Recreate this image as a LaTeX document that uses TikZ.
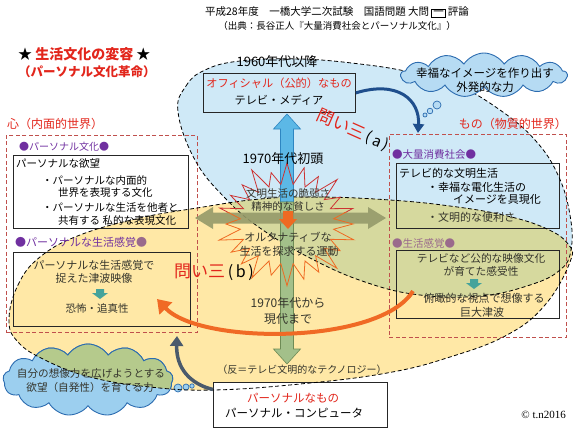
\documentclass[tikz,border=0pt]{standalone}
\usepackage{fontspec}
\setmainfont{Noto Sans CJK JP}
\newfontfamily\seriffont{Liberation Serif}
\usetikzlibrary{shapes.symbols,arrows.meta,positioning}
\setlength\fboxsep{1.2pt}
\setlength\fboxrule{0.6pt}

% colours
\definecolor{skyfill}{HTML}{CFE9F7}
\definecolor{sunfill}{HTML}{FFE8A6}
\definecolor{mixfill}{HTML}{D6D99E}
\definecolor{puffblue}{HTML}{9CCFEF}
\definecolor{pufftop}{HTML}{B6DBF3}
\definecolor{puffline}{HTML}{2C6CB0}
\definecolor{puffmix}{HTML}{B5CA8C}
\definecolor{frame}{HTML}{C0504D}
\definecolor{headred}{HTML}{E2261C}
\definecolor{persviolet}{HTML}{7030A0}
\definecolor{mauve}{HTML}{9A6A8C}
\definecolor{ink}{HTML}{35352C}
\definecolor{upblue}{HTML}{5CB8E6}
\definecolor{upblueline}{HTML}{2E86C1}
\definecolor{downgreen}{HTML}{A3C08A}
\definecolor{downgreenline}{HTML}{6E8B55}
\definecolor{sidearrow}{HTML}{959A6A}
\definecolor{tealarrow}{HTML}{45A39B}
\definecolor{burstred}{HTML}{CC3333}
\definecolor{burstorange}{HTML}{EE6A22}
\definecolor{arcorange}{HTML}{F06A25}
\definecolor{slatearrow}{HTML}{4A5A6C}
\definecolor{navyarrow}{HTML}{1F4E8C}

\tikzset{
  txt/.style={inner sep=0pt, font=\fontsize{#1}{#1}\selectfont},
  txt/.default=10.5,
  redframe/.style={draw=frame, dash pattern=on 4pt off 2.5pt, line width=0.9pt, inner sep=0pt},
  inkbox/.style={draw=black!85, line width=0.8pt, inner sep=0pt},
  ovaledge/.style={draw=black, dash pattern=on 4pt off 2.5pt, line width=0.8pt},
  puff/.style={cloud, cloud puffs=13, cloud puff arc=115, cloud ignores aspect,
    draw=puffline, line width=0.9pt, inner sep=0pt},
}

% outlines of the two worlds
\newcommand\skyshape{plot[smooth cycle, tension=0.7] coordinates {(178,112) (186,86) (205,70)
  (240,61) (300,59) (360,64) (410,72) (455,84) (500,110) (535,140) (558,175) (570,215)
  (571,250) (560,270) (530,285) (480,296) (420,295) (365,282) (310,258) (260,228) (225,198) (195,160)}}
\newcommand\sunshape{plot[smooth cycle, tension=0.7] coordinates {(9,320) (18,285) (40,257)
  (80,235) (140,218) (197,208) (260,199) (320,197) (390,200) (450,206) (503,215) (545,228)
  (568,244) (570,262) (545,305) (507,335) (450,357) (387,373) (300,384) (213,390) (150,387)
  (90,377) (45,360) (18,342)}}
\newcommand\burstpath{(0:{66} and {58}) \foreach \k [evaluate=\k as \ang using \k*7.5,
  evaluate=\k as \rx using {mod(\k,2)==0 ? 66+5*sin(\k*71) : 47},
  evaluate=\k as \ry using {mod(\k,2)==0 ? 58+5*sin(\k*71) : 40}] in {1,...,47}
  {-- (\ang:{\rx} and {\ry})} -- cycle}

\begin{document}
\begin{tikzpicture}[x=1pt,y=-1pt]
  \useasboundingbox (0,0) rectangle (576,432);

  % the two worlds
  \fill[skyfill] \skyshape;
  \fill[sunfill] \sunshape;
  \begin{scope}
    \clip \skyshape;
    \fill[mixfill] \sunshape;
  \end{scope}

  % cloud at bottom left
  \node[puff, fill=puffblue, minimum width=170pt, minimum height=72pt] (wishcloud) at (88,380) {};
  \begin{scope}
    \clip \sunshape;
    \node[puff, fill=puffmix, minimum width=170pt, minimum height=72pt] (wishmix) at (88,380) {};
  \end{scope}
  \foreach \bx/\by/\br in {178/388/4, 186/387/3, 192/386/2.2}
    \draw[puffline, fill=puffblue, line width=0.7pt] (\bx,\by) circle[radius=\br pt];

  % frames
  \node[redframe, minimum width=191pt, minimum height=197pt, anchor=north west] (heartframe) at (6,135) {};
  \node[redframe, minimum width=177pt, minimum height=203pt, anchor=north west] (thingframe) at (389,134) {};
  \node[inkbox, minimum width=175pt, minimum height=73pt, anchor=north west] (desirebox) at (13,155) {};
  \node[inkbox, minimum width=177pt, minimum height=74pt, anchor=north west] (tsunamibox) at (13,252) {};
  \node[inkbox, minimum width=163pt, minimum height=65pt, anchor=north west] (tvlifebox) at (396,163) {};
  \node[inkbox, minimum width=163pt, minimum height=68pt, anchor=north west] (tvsensebox) at (396,250) {};
  \node[inkbox, minimum width=152pt, minimum height=39pt, anchor=north west] (official) at (203,73) {};
  \node[inkbox, fill=white, minimum width=174pt, minimum height=45pt, anchor=north west] (pcbox) at (213,382) {};

  % dashed edges
  \path[ovaledge] \skyshape;
  \path[ovaledge] \sunshape;

  % cloud at top right
  \node[puff, fill=pufftop, minimum width=166pt, minimum height=44pt] (imagecloud) at (484,75) {};
  \foreach \bx/\by/\br in {437/105/4, 430/111/2.8, 425/115/2}
    \draw[puffline, fill=pufftop, line width=0.7pt] (\bx,\by) circle[radius=\br pt];

  % vertical arrows
  \filldraw[fill=upblue, draw=upblueline, line width=0.6pt] (287,114) -- (300.5,129) -- (293.5,129)
    -- (293.5,202) -- (280.5,202) -- (280.5,129) -- (273.5,129) -- cycle;
  \filldraw[fill=downgreen, draw=downgreenline, line width=0.6pt] (287,364) -- (300.5,349) -- (293.5,349)
    -- (293.5,202) -- (280.5,202) -- (280.5,349) -- (273.5,349) -- cycle;
  % horizontal arrow
  \fill[sidearrow, opacity=0.9] (195,218) -- (213,207) -- (213,212.5) -- (368,212.5) -- (368,207)
    -- (386,218) -- (368,229) -- (368,223.5) -- (213,223.5) -- (213,229) -- cycle;
  % burst
  \begin{scope}[shift={(287,224)}]
    \begin{scope}
      \clip (-90,-90) rectangle (90,-12);
      \draw[burstred, line width=0.8pt] \burstpath;
    \end{scope}
    \begin{scope}
      \clip (-90,-12) rectangle (90,90);
      \draw[burstorange, line width=0.8pt] \burstpath;
    \end{scope}
  \end{scope}
  \fill[burstorange] (288,229) -- (297,219) -- (293,219) -- (293,211) -- (283,211) -- (283,219) -- (279,219) -- cycle;
  \foreach \ax/\ay in {100/294, 474/284}
    \fill[tealarrow] (\ax,\ay+5) -- (\ax+8,\ay-1) -- (\ax+4,\ay-1) -- (\ax+4,\ay-5)
      -- (\ax-4,\ay-5) -- (\ax-4,\ay-1) -- (\ax-8,\ay-1) -- cycle;

  % connectors
  \coordinate (massarrow) at (418,133);
  \coordinate (arcstart) at (413,291);
  \coordinate (arcend) at (157,299);
  \coordinate (slatetip) at (177,336);
  \draw[navyarrow, line width=3pt, -{Triangle[length=9pt,width=11pt]}]
    (official.east) .. controls (398,80) and (420,100) .. (massarrow);
  \draw[arcorange, line width=4pt, -{Triangle[length=13pt,width=17pt]}]
    (arcstart) .. controls (380,345) and (200,345) .. (arcend);
  \draw[slatearrow, line width=3.5pt, -{Triangle[length=10pt,width=13pt]}]
    (pcbox.170) .. controls (190,384) and (176,368) .. (slatetip);

  % titles
  \node[txt=10.5] (title) at (337,12) {平成28年度　一橋大学二次試験　国語問題 大問 \fbox{一} 評論};
  \node[txt=9.5] (source) at (337,26) {（出典：長谷正人『大量消費社会とパーソナル文化』）};
  \node[txt=14, anchor=west] (change) at (18,54) {★ \textcolor{headred}{\bfseries 生活文化の変容} ★};
  \node[txt=12.5, text=headred, anchor=west] (revolution) at (18,72) {\bfseries （パーソナル文化革命）};
  \node[txt=12, text=headred, anchor=west] (heart) at (7,124) {心（内面的世界）};
  \node[txt=12, text=headred, anchor=east] (thing) at (567,124) {もの（物質的世界）};

  % left side
  \node[txt=10, anchor=west] (perscult) at (19,147) {\textcolor{persviolet}{●パーソナル文化●}};
  \node[txt=10.5, anchor=west] (desire) at (16,164) {パーソナルな欲望};
  \node[txt=10.5, anchor=west] (inner1) at (42,180) {・パーソナルな内面的};
  \node[txt=10.5, anchor=west] (inner2) at (58,193) {世界を表現する文化};
  \node[txt=10.5, anchor=west] (share1) at (42,208) {・パーソナルな生活を他者と};
  \node[txt=10.5, anchor=west] (share2) at (58,221) {共有する 私的な表現文化};
  \node[txt=11, anchor=west] (perssense) at (15,242) {\textcolor{persviolet}{●パーソナルな生活感覚}\textcolor{mauve}{●}};
  \node[txt=11, text=ink] (tsunami1) at (94,265) {パーソナルな生活感覚で};
  \node[txt=11, text=ink] (tsunami2) at (94,278) {捉えた津波映像};
  \node[txt=10.5, text=ink] (fear) at (97,308) {恐怖・追真性};

  % right side
  \node[txt=10.5, text=persviolet, anchor=west] (masscons) at (392,155) {●大量消費社会●};
  \node[txt=11, anchor=west] (tvlife) at (399,173) {テレビ的な文明生活};
  \node[txt=11, anchor=west] (happy1) at (427,187) {・幸福な電化生活の};
  \node[txt=11, anchor=west] (happy2) at (453,199) {イメージを具現化};
  \node[txt=11, text=ink, anchor=west] (handy) at (427,217) {・文明的な便利さ};
  \node[txt=10.5, text=mauve, anchor=west] (sense) at (392,243) {●生活感覚●};
  \node[txt=10.7, text=ink] (public1) at (481,258) {テレビなど公的な映像文化};
  \node[txt=10.7, text=ink] (public2) at (481,271) {が育てた感受性};
  \node[txt=11, text=ink] (aerial1) at (484,298) {俯瞰的な視点で想像する};
  \node[txt=11, text=ink] (aerial2) at (482,312) {巨大津波};

  % centre
  \node[txt=13] (sixties) at (277,62) {1960年代以降};
  \node[txt=11.2, text=headred] (officialtxt) at (279,83) {オフィシャル（公的）なもの};
  \node[txt=11.2] (tvmedia) at (279,100) {テレビ・メディア};
  \node[txt=13] (seventies) at (283,159) {1970年代初頭};
  \node[txt=10.5, text=ink] (weak1) at (288,193) {文明生活の脆弱さ};
  \node[txt=10.5, text=ink] (weak2) at (288,207) {精神的な貧しさ};
  \node[txt=11, text=ink] (alt1) at (288,237) {オルタナティブな};
  \node[txt=11, text=ink] (alt2) at (289,251) {生活を探求する運動};
  \node[txt=12, text=ink] (today1) at (288,303) {1970年代から};
  \node[txt=12, text=ink] (today2) at (288,319) {現代まで};
  \node[txt=10, text=ink] (antitv) at (302,370) {（反＝テレビ文明的なテクノロジー）};
  \node[txt=11.5, text=headred] (perstxt) at (293,398) {パーソナルなもの};
  \node[txt=11.5] (pctxt) at (294,413) {パーソナル・コンピュータ};

  % clouds
  \node[txt=11.5] (image1) at (485,73) {幸福なイメージを作り出す};
  \node[txt=11.5] (image2) at (485,87) {外発的な力};
  \node[txt=10.6, text=ink] (wish1) at (91,373) {自分の想像力を広げようとする};
  \node[txt=10.6, text=ink] (wish2) at (90,387) {欲望（自発性）を育てる力};

  % questions
  \node[txt=17, text=headred, rotate=-24] (askA) at (353,130) {問い三\textcolor{black}{\fontsize{15}{15}\selectfont\,(\,a\,)}};
  \node[txt=17, text=headred] (askB) at (214,272) {問い三\textcolor{black}{\fontsize{16}{16}\selectfont\,(\,b\,)}};

  \node[font=\seriffont\fontsize{11}{11}\selectfont, inner sep=0pt, anchor=east] (credit) at (566,415) {© t.n2016};
\end{tikzpicture}
\end{document}
